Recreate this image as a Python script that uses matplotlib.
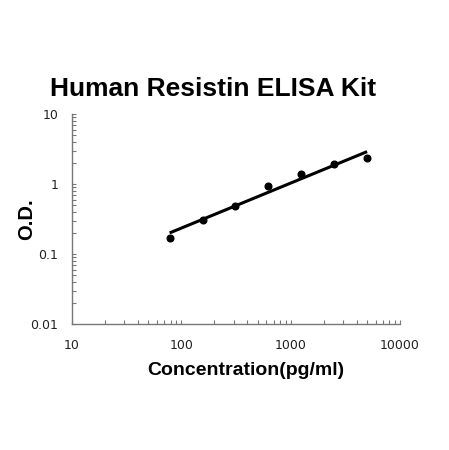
import matplotlib
matplotlib.use("Agg")
import matplotlib.pyplot as plt
from matplotlib.ticker import LogLocator, FixedFormatter, FixedLocator

plt.rcParams['font.family'] = ['Liberation Sans', 'DejaVu Sans']

# standard curve points
conc = [78.125, 156.25, 312.5, 625, 1250, 2500, 5000]
od = [0.169, 0.306, 0.485, 0.935, 1.39, 1.93, 2.35]

# fitted line ends
fit_conc = [78.125, 5000]
fit_od = [0.2, 2.9]

x_ticks = [10, 100, 1000, 10000]
x_labels = ["10", "100", "1000", "10000"]
y_ticks = [0.01, 0.1, 1, 10]
y_labels = ["0.01", "0.1", "1", "10"]

fig = plt.figure(figsize=(4.49, 4.5), dpi=100)
ax = fig.add_axes([0.1604, 0.28, 0.7305, 0.4667])

ax.plot(fit_conc, fit_od, color='black', lw=2.2, solid_capstyle='butt')
ax.plot(conc, od, 'o', color='black', ms=4.8)

ax.set_xscale('log')
ax.set_yscale('log')
ax.set_xlim(10, 10000)
ax.set_ylim(0.01, 10)

ax.xaxis.set_major_locator(FixedLocator(x_ticks))
ax.xaxis.set_major_formatter(FixedFormatter(x_labels))
ax.yaxis.set_major_locator(FixedLocator(y_ticks))
ax.yaxis.set_major_formatter(FixedFormatter(y_labels))
ax.xaxis.set_minor_locator(LogLocator(base=10, subs=range(2, 10)))
ax.yaxis.set_minor_locator(LogLocator(base=10, subs=range(2, 10)))
ax.xaxis.set_minor_formatter(plt.NullFormatter())
ax.yaxis.set_minor_formatter(plt.NullFormatter())

for s in ['top', 'right']:
    ax.spines[s].set_visible(False)
for s in ['left', 'bottom']:
    ax.spines[s].set_color('#777777')
    ax.spines[s].set_linewidth(1.0)

ax.tick_params(which='both', direction='in', length=3, width=0.8,
               color='#777777')
ax.tick_params(axis='x', which='major', pad=11)
ax.tick_params(axis='y', which='major', pad=10)
for lab in ax.get_xticklabels() + ax.get_yticklabels():
    lab.set_family('DejaVu Sans')
    lab.set_fontsize(9)
    lab.set_color('#222222')

ax.set_title("Human Resistin ELISA Kit", fontsize=19, fontweight='bold', pad=13,
             x=0.43)
ax.set_xlabel("Concentration(pg/ml)", fontsize=14, fontweight='bold', labelpad=7,
              x=0.53)
ax.set_ylabel("O.D.", fontsize=14.5, fontweight='bold')
ax.yaxis.set_label_coords(-0.11, 0.5)

fig.savefig("out.png", dpi=100)
